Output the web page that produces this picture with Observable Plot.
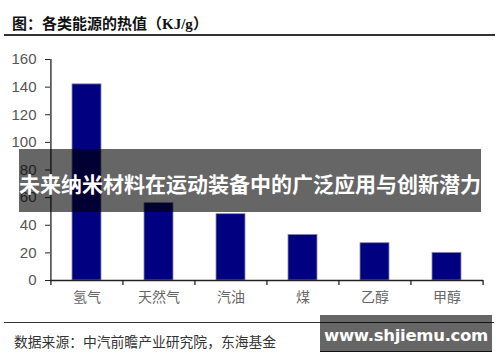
<!DOCTYPE html>
<html>
<head>
<meta charset="utf-8">
<script src="https://cdn.jsdelivr.net/npm/d3@7"></script>
<script src="https://cdn.jsdelivr.net/npm/@observablehq/plot@0.6"></script>
<style>
  html, body { margin: 0; padding: 0; background: #fff; }
  #wrap { position: relative; width: 500px; height: 362px; overflow: hidden; font-family: "Noto Sans CJK SC", "Liberation Sans", sans-serif; }
  #chart { position: absolute; left: 0; top: 40px; }
  .abs { position: absolute; white-space: nowrap; }
  #title { left: 12px; top: 12px; font-size: 15px; font-weight: bold; color: #111; line-height: 22px; }
  #title .en { font-family: "Liberation Serif", serif; }
  #tline { left: 4px; top: 34px; width: 491px; height: 1.5px; background: #333; }
  #fline { left: 4px; top: 321.5px; width: 490px; height: 1.3px; background: #333; }
  #source { left: 14px; top: 331px; font-size: 13.8px; color: #333; line-height: 20px; }
  #band { left: 19px; top: 149px; width: 462px; height: 63px; background: rgba(0,0,0,0.6); }
  #bandtext { left: 19px; top: 170px; width: 462px; text-align: center; font-size: 21px; font-weight: bold; color: #fff; line-height: 26px; }
  #wm { left: 320px; top: 315px; width: 172px; height: 36px; background: rgba(0,0,0,0.6); border-bottom: 1.5px solid #111; }
  #wmtext { left: 320px; top: 325px; width: 172px; text-align: center; font-family: "DejaVu Sans", sans-serif; font-size: 16.5px; font-weight: bold; color: #fff; line-height: 22px; letter-spacing: -0.3px; }
</style>
</head>
<body>
<div id="wrap">
  <div id="chart"></div>
  <div class="abs" id="title">图：各类能源的热值<span>（</span><span class="en">KJ/g</span><span>）</span></div>
  <div class="abs" id="tline"></div>
  <div class="abs" id="band"></div>
  <div class="abs" id="bandtext">未来纳米材料在运动装备中的广泛应用与创新潜力</div>
  <div class="abs" id="fline"></div>
  <div class="abs" id="source">数据来源：中汽前瞻产业研究院，东海基金</div>
  <div class="abs" id="wm"></div>
  <div class="abs" id="wmtext">www.shjiemu.com</div>
</div>
<script>
const categories = ["氢气", "天然气", "汽油", "煤", "乙醇", "甲醇"];
const values = [142, 56, 48, 33, 27, 20];
const yTicks = [0, 20, 40, 60, 80, 100, 120, 140, 160];

const data = categories.map((c, i) => ({category: c, value: values[i]}));

const W = 500, H = 270, mL = 50, mR = 17, mT = 19, mB = 30;
const step = (W - mL - mR) / categories.length;

const plot = Plot.plot({
  width: W,
  height: H,
  marginLeft: mL,
  marginRight: mR,
  marginTop: mT,
  marginBottom: mB,
  style: {background: "transparent", fontFamily: "Liberation Sans, Arial, sans-serif", overflow: "visible"},
  x: {domain: categories, paddingInner: 0.6, paddingOuter: 0.3, label: null},
  y: {domain: [0, 160], label: null},
  marks: [
    Plot.barY(data, {x: "category", y: "value", fill: "#000080", stroke: "#8a8aa8", strokeWidth: 0.8}),
    Plot.axisY({ticks: yTicks, tickSize: 5, tickPadding: 9, fontSize: 15, color: "#555", stroke: "#222", label: null}),
    Plot.axisX({tickSize: 0, tickPadding: 12, fontSize: 14, color: "#666", fontFamily: "Noto Sans CJK SC, sans-serif", label: null}),
    Plot.ruleX(categories, {x: d => d, y1: 0, y2: 0, insetBottom: -5, dx: -step / 2, stroke: "#222", strokeWidth: 1.3}),
    Plot.ruleX([categories[categories.length - 1]], {x: d => d, y1: 0, y2: 0, insetBottom: -5, dx: step / 2, stroke: "#222", strokeWidth: 1.3}),
    Plot.ruleX([categories[0]], {x: d => d, y1: 0, y2: 160, dx: -step / 2, stroke: "#222", strokeWidth: 1.3}),
    Plot.ruleY([0], {stroke: "#222", strokeWidth: 1.3})
  ]
});
document.getElementById("chart").appendChild(plot);
</script>
</body>
</html>
